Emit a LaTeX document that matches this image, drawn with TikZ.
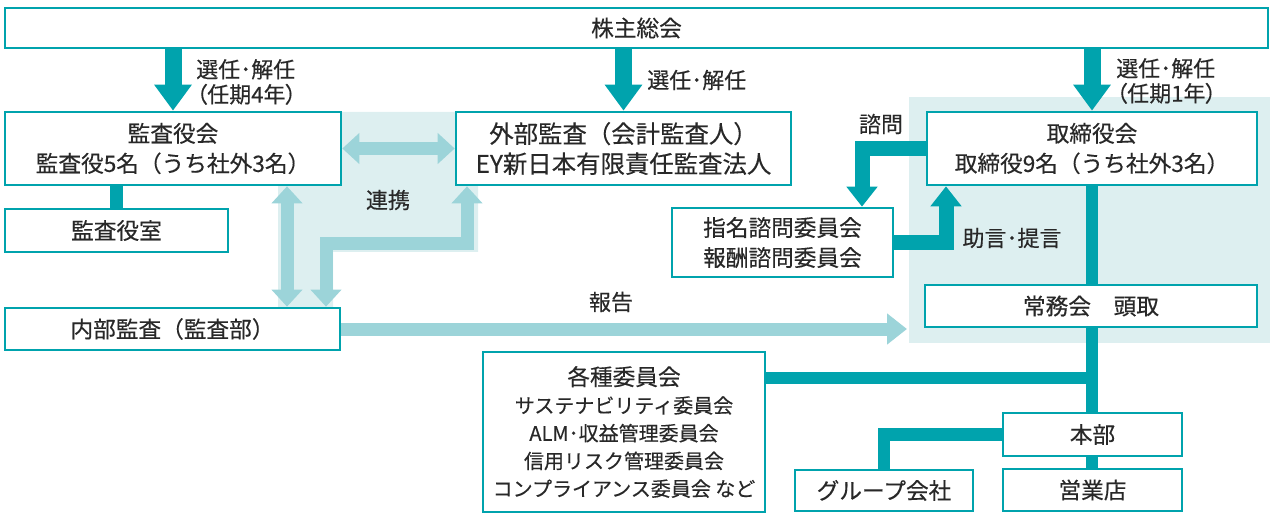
\documentclass[tikz,border=0pt]{standalone}
\usepackage{fontspec}
\setmainfont{Noto Sans CJK JP}[FakeBold=0.35]
\usetikzlibrary{arrows.meta,backgrounds}
\definecolor{teal1}{RGB}{0,163,173}
\definecolor{lite}{RGB}{156,212,217}
\definecolor{bgshade}{RGB}{221,239,240}
\definecolor{txt}{RGB}{40,40,40}
\newcommand{\smallfs}{\fontsize{15}{20.8}\selectfont}
\newcommand{\largefs}{\fontsize{17}{22.5}\selectfont}
\begin{document}
\begin{tikzpicture}[x=0.75pt,y=-0.75pt,
 box/.style={draw=teal1,line width=2pt,fill=white,inner sep=0pt,align=center,text=txt,font=\largefs},
 lbl/.style={text=txt,font=\fontsize{16.5}{18.75}\selectfont\addfontfeatures{RawFeature=+palt},inner sep=0pt,align=left},
 bigarrow/.style={draw=teal1,line width=12.75pt,-{Triangle[width=27pt,length=19.5pt]}},
 midarrow/.style={draw=teal1,line width=11.25pt,line join=miter,-{Triangle[width=22.5pt,length=15pt]}},
 tline/.style={draw=teal1,line width=9.5pt,line join=miter},
 litearrow/.style={draw=lite,line width=9.75pt,line join=miter,{Triangle[width=22.5pt,length=12.75pt]}-{Triangle[width=22.5pt,length=12.75pt]}},
 litesingle/.style={draw=lite,line width=9.75pt,-{Triangle[width=22.5pt,length=15pt]}},
]
\useasboundingbox (0,0) rectangle (1274,513);
% boxes
\node[box,minimum width=947.25pt,minimum height=30pt] (sh) at (636.5,28) {株主総会};
\node[box,minimum width=252pt,minimum height=54.75pt] (kansa) at (173,148.5) {監査役会\\監査役5名（うち社外3名）};
\node[box,minimum width=251.25pt,minimum height=54.75pt,font=\fontsize{18.3}{22.5}\selectfont] (gaibu) at (623.5,148.5) {外部監査（会計監査人）\\EY新日本有限責任監査法人};
\node[box,minimum width=247.5pt,minimum height=54.75pt] (tori) at (1092,148.5) {取締役会\\取締役9名（うち社外3名）};
\node[box,minimum width=167.25pt,minimum height=32.25pt] (shitsu) at (116.5,230.5) {監査役室};
\node[box,minimum width=165.75pt,minimum height=51.75pt] (shimei) at (782.5,242.5) {指名諮問委員会\\報酬諮問委員会};
\node[box,minimum width=251.25pt,minimum height=31.5pt] (naibu) at (172.5,329) {内部監査（監査部）};
\node[box,minimum width=249pt,minimum height=31.5pt] (jomu) at (1091,306) {常務会　頭取};
\node[box,minimum width=211.5pt,minimum height=120pt,font=\smallfs] (kakushu) at (624,432) {{\largefs 各種委員会}\\サステナビリティ委員会\\ALM･収益管理委員会\\信用リスク管理委員会\\コンプライアンス委員会 など};
\node[box,minimum width=134.25pt,minimum height=32.25pt] (honbu) at (1092.5,434.5) {本部};
\node[box,minimum width=134.25pt,minimum height=31.5pt] (eigyo) at (1092.5,490) {営業店};
\node[box,minimum width=133.5pt,minimum height=30.75pt] (group) at (884,490.5) {グループ会社};
% labels
\node[lbl,anchor=west] (l1) at (196,82) {選任･解任\\（任期4年）};
\node[lbl,anchor=west] (l2) at (647,80) {選任･解任};
\node[lbl,anchor=west] (l3) at (1116,81) {選任･解任\\（任期1年）};
\node[lbl] (renkei) at (388,200) {連携};
\node[lbl] (hokoku) at (611,302) {報告};
\node[lbl] (shimon) at (881,124) {諮問};
\node[lbl] (jogen) at (1012,238) {助言･提言};
% helper coordinates
\coordinate (v1) at (287,0);
\coordinate (v2) at (326,0);
\coordinate (v3) at (467,0);
\coordinate (bend) at (0,244);
\coordinate (sx) at (862,0);
\coordinate (ax) at (946,0);
\coordinate (rx) at (907,0);
\coordinate (hy) at (0,378);
\begin{pgfonlayer}{background}
\fill[bgshade] (909,97) rectangle (1270,343);
\fill[bgshade] (278,185) -- (341,185) -- (341,112) -- (456,112) -- (456,185) -- (478,185) -- (478,252) -- (333,252) -- (333,308) -- (278,308) -- cycle;
% top arrows
\draw[bigarrow] (sh.south -| kansa.north) -- (kansa.north);
\draw[bigarrow] (sh.south -| gaibu.north) -- (gaibu.north);
\draw[bigarrow] (sh.south -| tori.north) -- (tori.north);
% renkei
\draw[litearrow] (kansa.east) -- (gaibu.west);
\draw[litearrow] (kansa.south -| v1) -- (naibu.north -| v1);
\draw[litearrow] (naibu.north -| v2) -- (bend -| v2) -- (bend -| v3) -- (gaibu.south -| v3);
\draw[litesingle] (naibu.east) -- (naibu.east -| rx);
% teal
\draw[tline] (kansa.south -| shitsu.north) -- (shitsu.north);
\draw[midarrow] (tori.west) -- (tori.west -| sx) -- (shimei.north -| sx);
\draw[midarrow] (shimei.east) -- (shimei.east -| ax) -- (tori.south -| ax);
\draw[tline] (tori.south) -- (jomu.north -| tori.south);
\draw[tline] (jomu.south -| tori.south) -- (honbu.north -| tori.south);
\draw[tline] (kakushu.east |- hy) -- (hy -| tori.south);
\draw[tline] (honbu.west) -- (honbu.west -| group.north) -- (group.north);
\draw[tline] (honbu.south -| tori.south) -- (eigyo.north -| tori.south);
\end{pgfonlayer}
\end{tikzpicture}
\end{document}
